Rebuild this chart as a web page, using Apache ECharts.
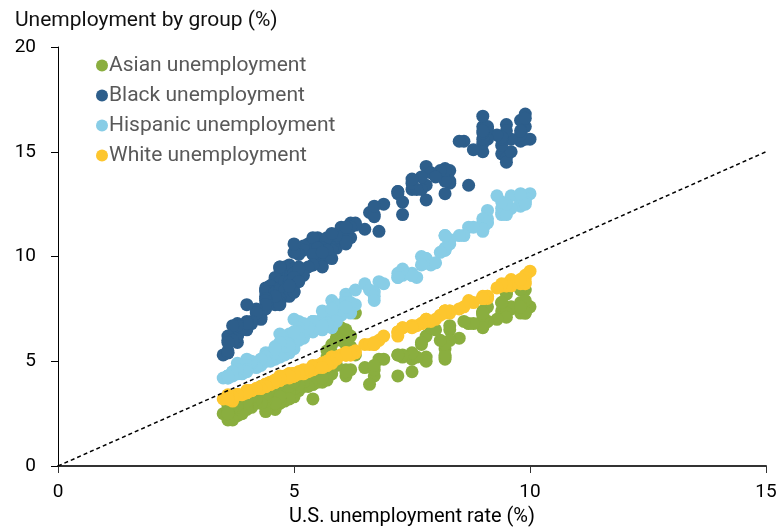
<!DOCTYPE html>
<html>
<head>
<meta charset="utf-8">
<script src="https://cdn.jsdelivr.net/npm/echarts@6/dist/echarts.min.js"></script>
<style>
  html, body { margin: 0; padding: 0; background: #fff; }
  #chart1 { width: 780px; height: 527px; }
</style>
</head>
<body>
<div id="chart1"></div>
<script>
// monthly U.S. unemployment rate, 2003-2019 (x)
var usRate = [
  5.8,5.9,5.9,6.0,6.1,6.3,6.2,6.1,6.1,6.0,5.8,5.7,
  5.7,5.6,5.8,5.6,5.6,5.6,5.5,5.4,5.4,5.5,5.4,5.4,
  5.3,5.4,5.2,5.2,5.1,5.0,5.0,4.9,5.0,5.0,5.0,4.9,
  4.7,4.8,4.7,4.7,4.6,4.6,4.7,4.7,4.5,4.4,4.5,4.4,
  4.6,4.5,4.4,4.5,4.4,4.6,4.7,4.6,4.7,4.7,4.7,5.0,
  5.0,4.9,5.1,5.0,5.4,5.6,5.8,6.1,6.1,6.5,6.8,7.3,
  7.8,8.3,8.7,9.0,9.4,9.5,9.5,9.6,9.8,10.0,9.9,9.9,
  9.8,9.8,9.9,9.9,9.6,9.4,9.4,9.5,9.5,9.4,9.8,9.3,
  9.1,9.0,9.0,9.1,9.0,9.1,9.0,9.0,9.0,8.8,8.6,8.5,
  8.3,8.3,8.2,8.2,8.2,8.2,8.2,8.1,7.8,7.8,7.7,7.9,
  8.0,7.7,7.5,7.6,7.5,7.5,7.3,7.2,7.2,7.2,6.9,6.7,
  6.6,6.7,6.7,6.2,6.3,6.1,6.2,6.1,5.9,5.7,5.8,5.6,
  5.7,5.5,5.4,5.4,5.6,5.3,5.2,5.1,5.0,5.0,5.1,5.0,
  4.8,4.9,5.0,5.1,4.8,4.9,4.8,4.9,5.0,4.9,4.7,4.7,
  4.7,4.6,4.4,4.4,4.4,4.3,4.3,4.4,4.3,4.2,4.2,4.1,
  4.0,4.1,4.0,4.0,3.8,4.0,3.8,3.8,3.7,3.8,3.8,3.9,
  4.0,3.8,3.8,3.7,3.6,3.6,3.7,3.6,3.5,3.6,3.6,3.6
]

var asianRate = [
  5.8,6.1,6.4,6.6,6.4,7.3,6.2,5.9,6.5,6.0,5.4,5.2,
  5.0,4.8,5.3,4.4,4.6,4.5,4.2,3.9,4.4,4.3,4.0,4.0,
  4.3,4.2,3.9,3.8,4.0,3.9,4.4,4.0,3.6,3.5,3.8,3.5,
  3.2,3.1,3.0,3.0,2.9,2.7,3.2,3.1,2.9,2.8,3.0,2.6,
  3.4,3.0,2.9,3.3,3.2,3.0,3.3,3.6,3.2,3.4,3.1,3.7,
  3.6,3.4,3.6,3.3,3.9,4.0,4.4,4.6,4.3,4.7,5.1,5.2,
  6.2,6.5,6.8,7.2,7.4,8.3,8.2,7.5,7.3,7.6,7.3,8.4,
  8.4,7.8,7.9,7.3,7.6,7.8,7.2,7.3,7.1,7.8,7.6,7.0,
  6.9,7.4,7.3,6.9,7.0,7.6,7.3,6.6,7.3,6.8,6.9,6.1,
  6.7,6.0,5.6,5.1,5.2,5.3,5.8,6.0,5.2,5.0,5.8,6.6,
  6.5,5.9,5.1,5.2,4.5,5.4,5.3,4.3,5.3,5.3,5.1,4.3,
  3.9,4.6,4.8,5.7,5.3,5.8,4.6,4.5,4.8,5.5,4.8,4.8,
  4.1,4.0,3.2,4.1,4.2,3.8,4.0,3.8,3.4,3.9,4.2,3.7,
  3.6,3.8,4.3,3.9,3.6,3.5,3.7,3.8,4.0,3.2,3.2,3.1,
  3.3,3.0,3.1,3.3,3.3,3.6,3.8,3.4,3.0,3.0,3.2,2.8,
  2.9,3.3,2.8,2.8,2.4,2.7,2.9,2.6,2.7,2.8,2.6,2.5,
  3.1,2.8,2.9,2.2,2.5,2.2,2.8,2.9,2.5,2.7,2.6,2.5
]

var blackRate = [
  10.5,10.5,10.4,10.9,10.8,11.6,10.9,10.9,11.1,11.4,10.4,10.1,
  10.4,9.8,10.3,9.8,10.1,10.2,10.9,10.4,10.3,10.8,10.8,10.7,
  10.6,10.9,10.5,10.3,10.1,10.2,9.2,9.6,9.4,9.1,10.6,9.2,
  8.9,9.5,9.5,9.4,8.9,9.0,9.5,8.8,8.6,8.5,8.6,8.4,
  7.9,8.2,8.1,8.3,8.3,8.3,7.9,7.7,8.0,8.5,8.4,9.0,
  9.2,8.3,8.9,8.6,9.6,9.5,9.9,10.6,11.3,11.3,11.2,12.0,
  12.7,13.5,13.4,15.0,14.9,14.7,14.5,15.0,15.5,15.6,15.6,16.2,
  16.5,15.8,16.8,16.6,15.6,15.3,15.6,16.3,16.0,15.7,16.0,15.8,
  15.6,15.4,15.6,16.1,16.2,16.2,15.9,16.7,16.0,15.1,15.5,15.5,
  13.6,14.1,14.0,13.0,13.6,14.2,14.1,14.1,13.4,14.3,13.2,14.0,
  13.8,13.8,13.2,13.2,13.5,13.7,12.6,13.0,13.1,13.1,12.5,11.9,
  12.1,12.0,12.4,11.6,11.5,10.7,11.4,11.4,11.0,10.9,11.1,10.4,
  10.3,10.4,10.1,9.6,10.2,9.5,9.1,9.5,9.2,9.2,9.4,8.3,
  8.8,8.8,9.0,8.8,8.2,8.6,8.4,8.1,8.3,8.6,8.0,7.8,
  7.7,8.1,8.0,7.9,7.5,7.1,7.4,7.7,7.0,7.5,7.3,6.8,
  7.7,6.9,6.9,6.6,5.9,6.5,6.6,6.3,6.0,6.2,6.2,6.6,
  6.8,6.8,6.7,6.7,6.2,6.0,6.0,5.4,5.3,5.4,5.5,5.9
]

var hispanicRate = [
  7.9,7.7,7.6,7.7,8.2,8.4,7.7,7.7,7.4,7.2,7.2,7.3,
  7.2,7.0,7.4,7.0,7.0,6.9,6.8,6.8,6.9,6.9,6.8,6.8,
  6.6,6.4,6.1,6.2,6.0,5.9,5.9,6.0,6.1,5.9,5.9,5.9,
  5.5,5.3,5.3,5.2,5.1,5.3,5.4,5.3,5.2,5.0,5.0,5.1,
  5.6,5.4,5.1,5.2,5.4,5.7,5.6,5.4,5.8,5.7,5.7,6.3,
  6.2,6.3,6.9,7.0,6.9,7.4,7.5,8.0,8.0,8.7,8.8,9.1,
  9.7,10.8,11.4,11.2,12.0,12.1,12.1,12.9,12.6,13.0,12.7,12.8,
  12.5,12.4,12.6,12.5,12.3,12.3,12.1,12.0,12.5,12.6,13.0,12.9,
  12.2,11.6,11.5,11.8,11.8,11.6,11.3,11.3,11.3,11.4,11.0,11.0,
  10.6,10.8,10.3,10.4,11.0,11.0,10.3,10.2,9.9,9.9,10.0,9.6,
  9.7,9.6,9.2,9.0,9.1,9.1,9.4,9.2,9.0,9.0,8.7,8.3,
  8.4,8.1,7.9,7.3,7.7,7.8,7.8,7.6,6.9,6.8,6.6,6.5,
  6.7,6.6,6.8,6.9,6.7,6.6,6.8,6.6,6.4,6.3,6.4,6.3,
  5.9,5.4,5.6,6.1,5.6,5.8,5.4,5.6,6.4,5.7,5.7,6.3,
  5.9,5.6,5.1,5.2,5.2,4.8,5.1,5.0,5.1,4.8,4.7,4.9,
  4.9,5.0,5.1,4.8,4.9,4.6,4.5,4.6,4.5,4.5,4.5,4.4,
  4.5,4.4,4.6,4.3,4.2,4.3,4.5,4.3,4.2,4.3,4.2,4.3
]

var whiteRate = [
  5.2,5.2,5.2,5.3,5.4,5.5,5.4,5.3,5.3,5.3,5.2,5.0,
  5.0,4.9,5.0,4.9,4.9,4.9,4.8,4.7,4.8,4.8,4.7,4.6,
  4.5,4.6,4.5,4.4,4.4,4.3,4.3,4.2,4.3,4.3,4.3,4.3,
  4.1,4.2,4.1,4.1,4.0,4.0,4.1,4.1,4.0,3.9,3.9,3.9,
  4.0,4.0,3.9,3.9,3.9,4.0,4.1,4.1,4.2,4.2,4.1,4.4,
  4.4,4.4,4.5,4.4,4.7,4.9,5.1,5.4,5.4,5.8,6.0,6.6,
  7.0,7.4,7.9,8.0,8.6,8.6,8.6,8.9,8.9,9.3,9.1,9.0,
  8.7,8.8,8.8,8.7,8.6,8.6,8.6,8.7,8.6,8.7,8.9,8.5,
  8.1,8.0,8.0,8.0,8.1,8.1,8.0,8.0,8.0,7.8,7.6,7.5,
  7.4,7.3,7.3,7.4,7.4,7.4,7.4,7.2,7.0,6.9,6.8,6.9,
  7.0,6.8,6.7,6.7,6.7,6.6,6.6,6.4,6.4,6.2,6.2,5.9,
  5.8,5.8,5.8,5.3,5.4,5.3,5.3,5.3,5.1,4.8,4.9,4.8,
  4.8,4.7,4.7,4.7,4.7,4.6,4.6,4.5,4.4,4.4,4.4,4.4,
  4.3,4.3,4.3,4.4,4.2,4.4,4.2,4.4,4.4,4.3,4.2,4.3,
  4.2,4.1,3.9,3.8,3.8,3.7,3.8,3.8,3.7,3.7,3.7,3.6,
  3.5,3.6,3.6,3.6,3.4,3.5,3.4,3.4,3.3,3.4,3.4,3.4,
  3.5,3.4,3.4,3.1,3.3,3.3,3.3,3.4,3.2,3.2,3.3,3.2
]

var groupNames = ['Asian unemployment', 'Black unemployment', 'Hispanic unemployment', 'White unemployment']
var groupColors = ['#8aae3f', '#2d5e8b', '#88cde6', '#fdc62e']
var groupRates = [asianRate, blackRate, hispanicRate, whiteRate]
var xTicks = [0, 5, 10, 15]
var yTicks = [0, 5, 10, 15, 20]
// 45-degree reference line
var refLine = [[0, 0], [15, 15]]

// 把每组数据拼成散点
var pairUp = function (ys) {
  return usRate.map(function (x, i) { return [x, ys[i]] })
}

var series = groupNames.map(function (name, k) {
  return {
    name: name,
    type: 'scatter',
    symbolSize: 13,
    itemStyle: { color: groupColors[k], opacity: 1 },
    data: pairUp(groupRates[k])
  }
})

series.push({
  name: 'ref',
  type: 'line',
  z: 5,
  symbol: 'none',
  silent: true,
  lineStyle: { color: '#000', width: 1.5, type: [4, 3] },
  data: refLine
})

var chart = echarts.init(document.getElementById('chart1'))
chart.setOption({
  animation: false,
  backgroundColor: '#fff',
  title: {
    text: 'Unemployment by group (%)',
    left: 10,
    top: 5,
    textStyle: { fontSize: 21, fontWeight: 'normal', color: '#111', fontFamily: 'Roboto' }
  },
  legend: {
    data: groupNames,
    orient: 'vertical',
    left: 91,
    top: 50,
    icon: 'circle',
    itemWidth: 12,
    itemHeight: 12,
    itemGap: 9,
    textStyle: { fontSize: 21, color: '#595959', fontFamily: 'Roboto', padding: [0, 0, 0, -4] }
  },
  grid: { left: 58, right: 14, top: 47, bottom: 61, outerBoundsMode: 'none' },
  xAxis: {
    type: 'value',
    min: xTicks[0],
    max: xTicks[xTicks.length - 1],
    interval: 5,
    splitLine: { show: false },
    axisLine: { show: true, onZero: false, lineStyle: { color: '#333', width: 2 } },
    axisTick: { show: true, length: 7, lineStyle: { color: '#333', width: 1 } },
    axisLabel: { fontSize: 19, color: '#000', margin: 17, fontFamily: 'Roboto' },
    name: 'U.S. unemployment rate (%)',
    nameLocation: 'middle',
    nameGap: 41,
    nameTextStyle: { fontSize: 20, color: '#000', fontFamily: 'Roboto' }
  },
  yAxis: {
    type: 'value',
    min: yTicks[0],
    max: yTicks[yTicks.length - 1],
    interval: 5,
    splitLine: { show: false },
    axisLine: { show: true, onZero: false, lineStyle: { color: '#000', width: 1 } },
    axisTick: { show: true, length: 7, lineStyle: { color: '#000', width: 1 } },
    axisLabel: { fontSize: 19, color: '#000', margin: 22, fontFamily: 'Roboto' }
  },
  series: series
})
</script>
</body>
</html>
